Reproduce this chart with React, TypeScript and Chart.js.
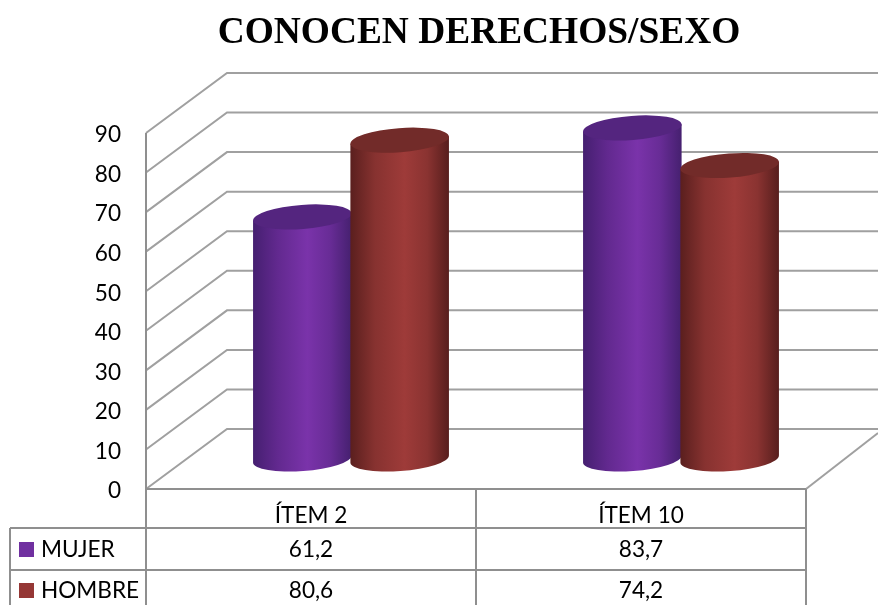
import React, { useEffect, useRef } from "react";
import { Chart, registerables } from "chart.js";

Chart.register(...registerables);

const titleText = "CONOCEN DERECHOS/SEXO";
const categories = ["ÍTEM 2", "ÍTEM 10"];
const seriesNames = ["MUJER", "HOMBRE"];
const mujer = [61.2, 83.7];
const hombre = [80.6, 74.2];
const seriesValues = [mujer, hombre];

const swatchColors = ["#7030A0", "#953735"];
const bodyStops = [
  ["#451f70", "#62298f", "#7a33aa", "#682c96", "#45206f"],
  ["#5a1f1e", "#873230", "#9e3b39", "#8a3331", "#571e1d"],
];
const capColors = ["#54257f", "#722b29"];
const gridColor = "#a0a0a0";
const tableColor = "#8f8f8f";

const DEPTH_X = 81;
const DEPTH_Y = 60;
const BAR_SHIFT_X = 40;
const BAR_SHIFT_Y = 30;
const TILT = -0.075;
const ELLIPSE_RATIO = 0.122;
const TITLE_SHIFT = 3;
const TABLE_LEFT = 10;
const ROW_LINES = [528, 570];
const ROW_TEXT_Y = [550, 591];
const SWATCH_TOP = [542, 583];
const LABEL_FONT = 22.6;

function line(ctx: CanvasRenderingContext2D, pts: number[][], color: string, width: number) {
  ctx.beginPath();
  ctx.moveTo(pts[0][0], pts[0][1]);
  pts.slice(1).forEach((p) => ctx.lineTo(p[0], p[1]));
  ctx.strokeStyle = color;
  ctx.lineWidth = width;
  ctx.stroke();
}

const titleShiftPlugin = {
  id: "titleShift",
  afterLayout(chart: any) {
    if (chart.titleBlock) {
      chart.titleBlock.left += TITLE_SHIFT;
      chart.titleBlock.right += TITLE_SHIFT;
    }
  },
};

const wallsPlugin = {
  id: "walls",
  beforeDatasetsDraw(chart: any) {
    const { ctx, chartArea, scales, width } = chart;
    const y = scales.y;
    ctx.save();
    y.ticks.forEach((t: any) => {
      const py = y.getPixelForValue(t.value);
      line(ctx, [[chartArea.left, py], [chartArea.left + DEPTH_X, py - DEPTH_Y], [width, py - DEPTH_Y]], gridColor, 2);
    });
    line(ctx, [[chartArea.right, chartArea.bottom], [width, chartArea.bottom - 56]], gridColor, 2);
    ctx.restore();
  },
};

const cylinderPlugin = {
  id: "cylinders",
  afterDatasetsDraw(chart: any) {
    const { ctx } = chart;
    ctx.save();
    chart.data.datasets.forEach((_: any, di: number) => {
      chart.getDatasetMeta(di).data.forEach((bar: any) => {
        const { x, y, base, width } = bar.getProps(["x", "y", "base", "width"], true);
        const cx = x + BAR_SHIFT_X;
        const top = y - BAR_SHIFT_Y;
        const bottom = base - BAR_SHIFT_Y;
        const rx = width / 2;
        const ry = width * ELLIPSE_RATIO;
        const dx = rx * Math.cos(TILT);
        const dy = rx * Math.sin(TILT);
        const g = ctx.createLinearGradient(cx - rx, 0, cx + rx, 0);
        const stops = bodyStops[di];
        [0, 0.25, 0.55, 0.78, 1].forEach((s, i) => g.addColorStop(s, stops[i]));
        ctx.beginPath();
        ctx.moveTo(cx - dx, top - dy);
        ctx.lineTo(cx - dx, bottom - dy);
        ctx.ellipse(cx, bottom, rx, ry, TILT, Math.PI, 0, true);
        ctx.lineTo(cx + dx, top + dy);
        ctx.closePath();
        ctx.fillStyle = g;
        ctx.fill();
        ctx.beginPath();
        ctx.ellipse(cx, top, rx, ry, TILT, 0, Math.PI * 2);
        ctx.fillStyle = capColors[di];
        ctx.fill();
      });
    });
    ctx.restore();
  },
};

const tablePlugin = {
  id: "dataTable",
  afterDraw(chart: any) {
    const { ctx, chartArea, scales, height } = chart;
    const { left, right, bottom } = chartArea;
    const mid = (left + right) / 2;
    ctx.save();
    line(ctx, [[left, chartArea.top], [left, height]], tableColor, 2);
    line(ctx, [[left, bottom], [right, bottom]], tableColor, 2);
    line(ctx, [[right, bottom], [right, height]], tableColor, 2);
    line(ctx, [[mid, bottom], [mid, height]], tableColor, 2);
    line(ctx, [[TABLE_LEFT, ROW_LINES[0]], [right, ROW_LINES[0]]], tableColor, 2);
    line(ctx, [[TABLE_LEFT, ROW_LINES[1]], [right, ROW_LINES[1]]], tableColor, 2);
    line(ctx, [[TABLE_LEFT, ROW_LINES[0]], [TABLE_LEFT, height]], tableColor, 2);
    ctx.font = `${LABEL_FONT}px Lato`;
    ctx.textBaseline = "middle";
    seriesNames.forEach((name, r) => {
      ctx.fillStyle = swatchColors[r];
      ctx.fillRect(19, SWATCH_TOP[r], 15, 15);
      ctx.fillStyle = "#000";
      ctx.textAlign = "left";
      ctx.fillText(name, 41, ROW_TEXT_Y[r]);
      ctx.textAlign = "center";
      seriesValues[r].forEach((v, c) => {
        ctx.fillText(String(v).replace(".", ","), scales.x.getPixelForTick(c), ROW_TEXT_Y[r]);
      });
    });
    ctx.restore();
  },
};

export default function App() {
  const ref = useRef<HTMLCanvasElement>(null);
  useEffect(() => {
    document.body.style.margin = "0";
    const chart = new Chart(ref.current!, {
      type: "bar",
      data: {
        labels: categories,
        datasets: seriesNames.map((name, i) => ({
          label: name,
          data: seriesValues[i],
          backgroundColor: "transparent",
          categoryPercentage: 0.59,
          barPercentage: 1.015,
        })),
      },
      options: {
        responsive: false,
        animation: false,
        devicePixelRatio: 1,
        layout: { padding: { top: 0, left: 0, right: 72, bottom: 0 } },
        plugins: {
          legend: { display: false },
          tooltip: { enabled: false },
          title: {
            display: true,
            text: titleText,
            fullSize: false,
            color: "#000",
            font: { family: "Liberation Serif", size: 37.4, weight: "bold", lineHeight: 1.2 },
            padding: { top: 11, bottom: 77.1 },
          },
        },
        scales: {
          x: {
            grid: { display: false },
            border: { display: false },
            ticks: { color: "#000", font: { family: "Lato", size: LABEL_FONT }, padding: 5, maxRotation: 0 },
            afterFit: (s: any) => { s.height = 116; },
          },
          y: {
            min: 0,
            max: 90,
            grid: { display: false },
            border: { display: false },
            ticks: { stepSize: 10, color: "#000", font: { family: "Lato", size: LABEL_FONT }, padding: 17, labelOffset: 2 },
            afterFit: (s: any) => { s.width = 146; },
          },
        },
      },
      plugins: [titleShiftPlugin, wallsPlugin, cylinderPlugin, tablePlugin],
    } as any);
    return () => chart.destroy();
  }, []);
  return (
    <div style={{ width: 878, height: 605, overflow: "hidden" }}>
      <canvas ref={ref} width={878} height={605} style={{ display: "block" }} />
    </div>
  );
}
